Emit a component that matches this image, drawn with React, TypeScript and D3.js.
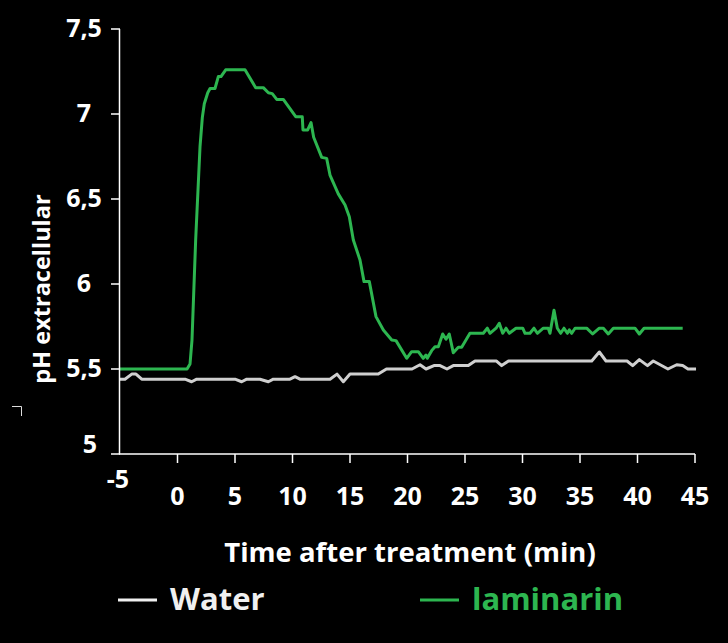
import * as d3 from 'd3';

// pH readings over time (min)
const waterSeries: [number, number][] = [
  [-5, 5.44], [-4.57, 5.44], [-3.98, 5.47], [-3.61, 5.47], [-3.11, 5.44],
  [0.65, 5.44], [1.23, 5.425], [1.67, 5.44], [5.0, 5.44], [5.58, 5.425],
  [6.02, 5.44], [7.17, 5.44], [7.9, 5.425], [8.33, 5.44], [9.78, 5.44],
  [10.22, 5.455], [10.65, 5.44], [13.26, 5.44], [13.87, 5.47], [14.42, 5.425],
  [15.0, 5.47], [17.46, 5.47], [18.17, 5.5], [20.39, 5.5], [21.09, 5.525],
  [21.61, 5.5], [22.3, 5.52], [22.83, 5.52], [23.43, 5.5], [23.98, 5.52],
  [25.29, 5.52], [25.87, 5.547], [27.74, 5.547], [28.19, 5.52], [28.78, 5.547],
  [36.02, 5.547], [36.68, 5.6], [37.26, 5.547], [39.09, 5.547], [39.58, 5.52],
  [40.16, 5.555], [40.87, 5.52], [41.37, 5.547], [42.65, 5.5], [43.41, 5.525],
  [43.93, 5.52], [44.39, 5.5], [45.09, 5.5],
];

const laminarinSeries: [number, number][] = [
  [-5, 5.5], [0.83, 5.5], [1.09, 5.53], [1.26, 5.67], [1.58, 6.26], [1.96, 6.81],
  [2.16, 6.98], [2.33, 7.06], [2.63, 7.125], [2.83, 7.15], [3.26, 7.15],
  [3.55, 7.22], [3.78, 7.22], [4.19, 7.26], [5.87, 7.26], [6.8, 7.155],
  [7.46, 7.155], [7.9, 7.125], [8.24, 7.12], [8.63, 7.086], [9.2, 7.086],
  [10.28, 6.984], [10.85, 6.984], [10.91, 6.906], [11.32, 6.906], [11.61, 6.95],
  [11.84, 6.863], [12.54, 6.745], [12.97, 6.739], [13.26, 6.641], [13.98, 6.53],
  [14.57, 6.465], [14.94, 6.396], [15.29, 6.259], [15.87, 6.141], [16.22, 6.014],
  [16.68, 6.014], [17.26, 5.808], [17.9, 5.729], [18.63, 5.671], [19.0, 5.667],
  [19.93, 5.563], [20.36, 5.602], [20.94, 5.602], [21.37, 5.563], [21.61, 5.582],
  [21.72, 5.563], [22.1, 5.608], [22.39, 5.631], [22.68, 5.631], [23.06, 5.706],
  [23.35, 5.675], [23.63, 5.706], [23.98, 5.596], [24.42, 5.628], [24.71, 5.628],
  [25.43, 5.71], [26.59, 5.71], [26.94, 5.74], [27.17, 5.71], [27.7, 5.74],
  [27.98, 5.769], [28.28, 5.71], [28.57, 5.74], [28.85, 5.71], [29.43, 5.74],
  [30.02, 5.74], [30.22, 5.71], [30.65, 5.71], [31.0, 5.74], [31.29, 5.71],
  [31.81, 5.74], [32.24, 5.74], [32.39, 5.71], [32.74, 5.845], [33.03, 5.74],
  [33.32, 5.71], [33.61, 5.74], [33.9, 5.71], [34.07, 5.73], [34.28, 5.71],
  [34.57, 5.74], [35.58, 5.74], [36.1, 5.706], [36.68, 5.74], [37.03, 5.74],
  [37.46, 5.706], [37.9, 5.74], [39.78, 5.74], [40.16, 5.706], [40.57, 5.74],
  [43.93, 5.74],
];

const xTicks = [-5, 0, 5, 10, 15, 20, 25, 30, 35, 40, 45];
const yTicks = [5, 5.5, 6, 6.5, 7, 7.5];
const legendItems = ['Water', 'laminarin'];

const W = 728;
const H = 643;
const FONT = '"Open Sans", "DejaVu Sans", sans-serif';
const GREEN = '#2db650';
const GRAY = '#cfcfcf';

export default function App() {
  const x = d3.scaleLinear().domain([-5, 45]).range([120, 695]);
  const y = d3.scaleLinear().domain([5, 7.5]).range([454, 29]);

  const line = d3
    .line<[number, number]>()
    .x((d) => x(d[0]))
    .y((d) => y(d[1]));

  const fmt = (v: number) => String(v).replace('.', ',');

  return (
    <svg
      width={W}
      height={H}
      style={{ position: 'absolute', left: 0, top: 0, background: '#000' }}
      fontFamily={FONT}
      fontWeight={700}
    >
      <rect width={W} height={H} fill="#000" />

      {/* stray mark at left */}
      <path d="M12,406.5 H21.5 V416" fill="none" stroke="#ddd" strokeWidth={1} />

      {/* series */}
      <path d={line(waterSeries) ?? ''} fill="none" stroke={GRAY} strokeWidth={3} strokeLinejoin="round" />
      <path d={line(laminarinSeries) ?? ''} fill="none" stroke={GREEN} strokeWidth={3} strokeLinejoin="round" />

      {/* y axis */}
      <line x1={x(-5) - 0.5} x2={x(-5) - 0.5} y1={y(7.5)} y2={y(5)} stroke="#fff" strokeWidth={1.5} />
      {yTicks.map((v) => (
        <g key={v}>
          <line x1={111} x2={x(-5)} y1={y(v)} y2={y(v)} stroke="#fff" strokeWidth={1.5} />
          <text
            x={v === 5 ? 90 : 84}
            y={v === 5 ? y(v) - 1 : y(v) + 8}
            textAnchor="middle"
            fontSize={25}
            fill="#fff"
          >
            {fmt(v)}
          </text>
        </g>
      ))}

      {/* x axis */}
      <line x1={x(-5) - 1} x2={x(45)} y1={y(5)} y2={y(5)} stroke="#fff" strokeWidth={1.5} />
      {xTicks.map((v) => (
        <g key={v}>
          {v !== -5 && (
            <line x1={x(v)} x2={x(v)} y1={y(5)} y2={y(5) + 9} stroke="#fff" strokeWidth={1.5} />
          )}
          <text
            x={v === -5 ? x(v) - 2 : x(v)}
            y={v === -5 ? 488 : 505}
            textAnchor="middle"
            fontSize={25}
            fill="#fff"
          >
            {fmt(v)}
          </text>
        </g>
      ))}

      {/* axis titles */}
      <text x={410} y={562} textAnchor="middle" fontSize={27.5} fill="#fff">
        Time after treatment (min)
      </text>
      <text
        transform={`translate(50, 289) rotate(-90)`}
        textAnchor="middle"
        fontSize={23.5}
        fill="#fff"
      >
        pH extracellular
      </text>

      {/* legend */}
      {legendItems.map((name, i) => {
        const lx = i === 0 ? 118 : 420;
        const col = i === 0 ? '#f0f0f0' : GREEN;
        return (
          <g key={name}>
            <line x1={lx} x2={lx + 39} y1={600} y2={600} stroke={col} strokeWidth={3} />
            <text x={lx + 52} y={610} fontSize={31} fill={col}>
              {name}
            </text>
          </g>
        );
      })}
    </svg>
  );
}
